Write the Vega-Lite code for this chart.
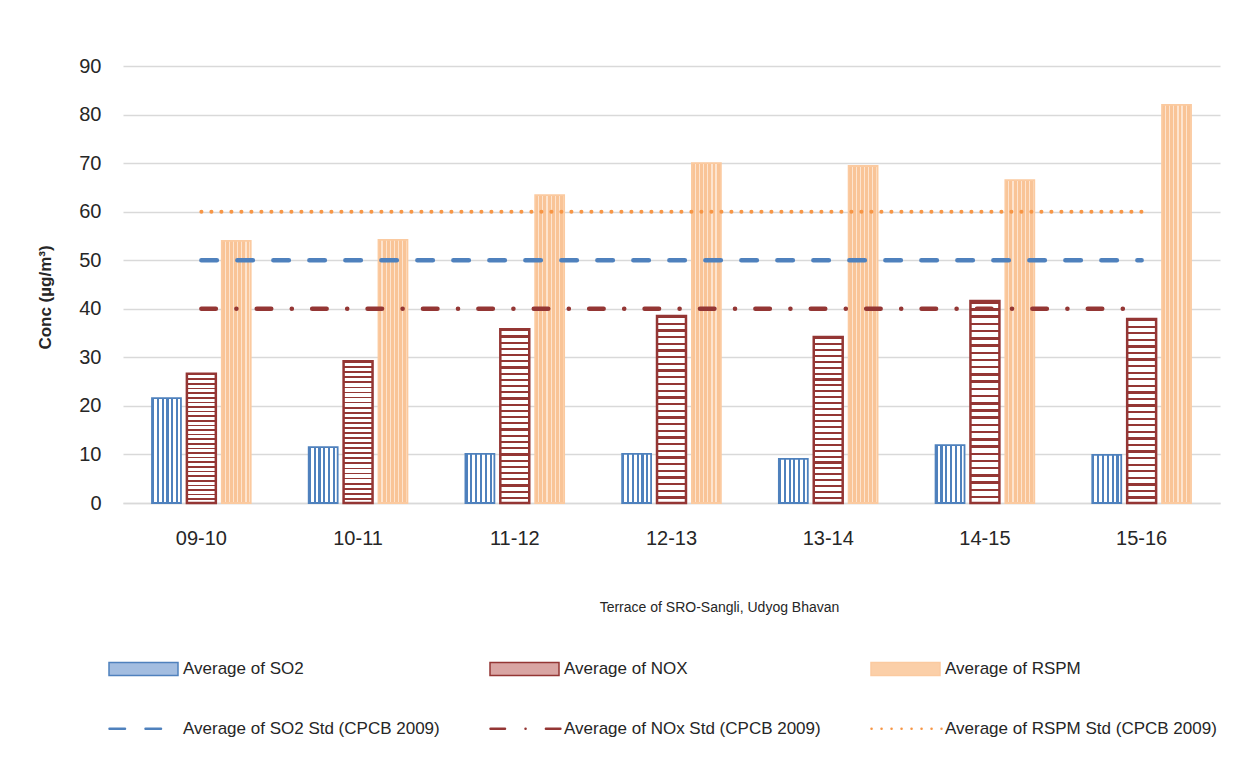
{
  "$schema": "https://vega.github.io/schema/vega-lite/v6.json",
  "width": 1097,
  "height": 437,
  "autosize": {"type": "none"},
  "padding": {"left": 123, "top": 66, "right": 17, "bottom": 270},
  "background": "white",
  "config": {
    "font": "Liberation Sans",
    "view": {"stroke": null},
    "axis": {
      "labelColor": "#262626",
      "titleColor": "#262626",
      "gridColor": "#d9d9d9",
      "gridWidth": 1.5,
      "domainColor": "#d9d9d9",
      "domainWidth": 1.5,
      "ticks": false
    },
    "legend": {"labelFontSize": 17, "labelColor": "#262626", "padding": 0, "labelLimit": 0}
  },
  "datasets": {
    "bars": [
      {"year": "09-10", "series": "Average of SO2", "value": 21.6},
      {"year": "10-11", "series": "Average of SO2", "value": 11.5},
      {"year": "11-12", "series": "Average of SO2", "value": 10.1},
      {"year": "12-13", "series": "Average of SO2", "value": 10.1},
      {"year": "13-14", "series": "Average of SO2", "value": 9.1},
      {"year": "14-15", "series": "Average of SO2", "value": 11.9},
      {"year": "15-16", "series": "Average of SO2", "value": 9.9},
      {"year": "09-10", "series": "Average of NOX", "value": 26.6},
      {"year": "10-11", "series": "Average of NOX", "value": 29.2},
      {"year": "11-12", "series": "Average of NOX", "value": 35.8},
      {"year": "12-13", "series": "Average of NOX", "value": 38.5},
      {"year": "13-14", "series": "Average of NOX", "value": 34.2},
      {"year": "14-15", "series": "Average of NOX", "value": 41.6},
      {"year": "15-16", "series": "Average of NOX", "value": 37.9},
      {"year": "09-10", "series": "Average of RSPM", "value": 54.0},
      {"year": "10-11", "series": "Average of RSPM", "value": 54.2},
      {"year": "11-12", "series": "Average of RSPM", "value": 63.4},
      {"year": "12-13", "series": "Average of RSPM", "value": 70.0},
      {"year": "13-14", "series": "Average of RSPM", "value": 69.4},
      {"year": "14-15", "series": "Average of RSPM", "value": 66.5},
      {"year": "15-16", "series": "Average of RSPM", "value": 82.0}
    ],
    "lines": [
      {"year": "09-10", "std": "Average of SO2 Std (CPCB 2009)", "value": 50},
      {"year": "10-11", "std": "Average of SO2 Std (CPCB 2009)", "value": 50},
      {"year": "11-12", "std": "Average of SO2 Std (CPCB 2009)", "value": 50},
      {"year": "12-13", "std": "Average of SO2 Std (CPCB 2009)", "value": 50},
      {"year": "13-14", "std": "Average of SO2 Std (CPCB 2009)", "value": 50},
      {"year": "14-15", "std": "Average of SO2 Std (CPCB 2009)", "value": 50},
      {"year": "15-16", "std": "Average of SO2 Std (CPCB 2009)", "value": 50},
      {"year": "09-10", "std": "Average of NOx Std (CPCB 2009)", "value": 40},
      {"year": "10-11", "std": "Average of NOx Std (CPCB 2009)", "value": 40},
      {"year": "11-12", "std": "Average of NOx Std (CPCB 2009)", "value": 40},
      {"year": "12-13", "std": "Average of NOx Std (CPCB 2009)", "value": 40},
      {"year": "13-14", "std": "Average of NOx Std (CPCB 2009)", "value": 40},
      {"year": "14-15", "std": "Average of NOx Std (CPCB 2009)", "value": 40},
      {"year": "15-16", "std": "Average of NOx Std (CPCB 2009)", "value": 40},
      {"year": "09-10", "std": "Average of RSPM Std (CPCB 2009)", "value": 60},
      {"year": "10-11", "std": "Average of RSPM Std (CPCB 2009)", "value": 60},
      {"year": "11-12", "std": "Average of RSPM Std (CPCB 2009)", "value": 60},
      {"year": "12-13", "std": "Average of RSPM Std (CPCB 2009)", "value": 60},
      {"year": "13-14", "std": "Average of RSPM Std (CPCB 2009)", "value": 60},
      {"year": "14-15", "std": "Average of RSPM Std (CPCB 2009)", "value": 60},
      {"year": "15-16", "std": "Average of RSPM Std (CPCB 2009)", "value": 60}
    ]
  },
  "encoding": {
    "x": {
      "field": "year",
      "type": "nominal",
      "scale": {"paddingInner": 0.37, "paddingOuter": 0.185},
      "axis": {
        "title": "Terrace of SRO-Sangli, Udyog Bhavan",
        "labelAngle": 0,
        "labelFontSize": 20,
        "labelPadding": 25,
        "titleFontSize": 14,
        "titleFontWeight": "normal",
        "titlePadding": 52,
        "titleX": 596,
        "titleAlign": "center",
        "titleAnchor": null
      }
    },
    "y": {
      "field": "value",
      "type": "quantitative",
      "scale": {"domain": [0, 90], "nice": false},
      "axis": {
        "title": "Conc (µg/m³)",
        "values": [0, 10, 20, 30, 40, 50, 60, 70, 80, 90],
        "domain": false,
        "labelFontSize": 20,
        "labelPadding": 22,
        "titleFontSize": 17,
        "titleFontWeight": "bold",
        "titlePadding": 24,
        "titleY": 231
      }
    }
  },
  "layer": [
    {
      "data": {"name": "bars"},
      "mark": {"type": "bar"},
      "encoding": {
        "xOffset": {
          "field": "series",
          "type": "nominal",
          "sort": ["Average of SO2", "Average of NOX", "Average of RSPM"],
          "scale": {"paddingInner": 0.17, "paddingOuter": 0}
        },
        "fill": {
          "field": "series",
          "type": "nominal",
          "scale": {
            "domain": ["Average of SO2", "Average of NOX", "Average of RSPM"],
            "range": ["#a3bde0", "#d9a5a3", "#fbcfa8"]
          },
          "legend": {
            "title": null,
            "orient": "none",
            "legendX": -15,
            "legendY": 567,
            "direction": "horizontal",
            "columns": 3,
            "gridAlign": "all",
            "columnPadding": 168,
            "symbolType": "M-1,-0.19H1V0.19H-1Z",
            "symbolSize": 4761,
            "symbolOpacity": 1,
            "symbolStrokeWidth": 1.5,
            "labelOffset": 4
          },
          "condition": [
            {
              "test": "datum.series === 'Average of SO2'",
              "value": {
                "gradient": "linear", "x1": 0, "y1": 0, "x2": 1, "y2": 0,
                "stops": [
                  {"offset": 0, "color": "#4f81bd"}, {"offset": 0.075, "color": "#4f81bd"}, {"offset": 0.075, "color": "#ffffff"}, {"offset": 0.1667, "color": "#ffffff"},
                  {"offset": 0.1667, "color": "#4f81bd"}, {"offset": 0.2417, "color": "#4f81bd"}, {"offset": 0.2417, "color": "#ffffff"}, {"offset": 0.3333, "color": "#ffffff"},
                  {"offset": 0.3333, "color": "#4f81bd"}, {"offset": 0.4083, "color": "#4f81bd"}, {"offset": 0.4083, "color": "#ffffff"}, {"offset": 0.5, "color": "#ffffff"},
                  {"offset": 0.5, "color": "#4f81bd"}, {"offset": 0.575, "color": "#4f81bd"}, {"offset": 0.575, "color": "#ffffff"}, {"offset": 0.6667, "color": "#ffffff"},
                  {"offset": 0.6667, "color": "#4f81bd"}, {"offset": 0.7417, "color": "#4f81bd"}, {"offset": 0.7417, "color": "#ffffff"}, {"offset": 0.8333, "color": "#ffffff"},
                  {"offset": 0.8333, "color": "#4f81bd"}, {"offset": 0.9083, "color": "#4f81bd"}, {"offset": 0.9083, "color": "#ffffff"}, {"offset": 1, "color": "#ffffff"}
                ]
              }
            },
            {
              "test": "datum.series === 'Average of NOX'",
              "value": {
                "gradient": "linear", "x1": 0, "y1": 0, "x2": 0, "y2": 1,
                "stops": [
                  {"offset": 0, "color": "#943634"}, {"offset": 0.0125, "color": "#943634"}, {"offset": 0.0125, "color": "#ffffff"}, {"offset": 0.0357, "color": "#ffffff"},
                  {"offset": 0.0357, "color": "#943634"}, {"offset": 0.0482, "color": "#943634"}, {"offset": 0.0482, "color": "#ffffff"}, {"offset": 0.0714, "color": "#ffffff"},
                  {"offset": 0.0714, "color": "#943634"}, {"offset": 0.0839, "color": "#943634"}, {"offset": 0.0839, "color": "#ffffff"}, {"offset": 0.1071, "color": "#ffffff"},
                  {"offset": 0.1071, "color": "#943634"}, {"offset": 0.1196, "color": "#943634"}, {"offset": 0.1196, "color": "#ffffff"}, {"offset": 0.1429, "color": "#ffffff"},
                  {"offset": 0.1429, "color": "#943634"}, {"offset": 0.1554, "color": "#943634"}, {"offset": 0.1554, "color": "#ffffff"}, {"offset": 0.1786, "color": "#ffffff"},
                  {"offset": 0.1786, "color": "#943634"}, {"offset": 0.1911, "color": "#943634"}, {"offset": 0.1911, "color": "#ffffff"}, {"offset": 0.2143, "color": "#ffffff"},
                  {"offset": 0.2143, "color": "#943634"}, {"offset": 0.2268, "color": "#943634"}, {"offset": 0.2268, "color": "#ffffff"}, {"offset": 0.25, "color": "#ffffff"},
                  {"offset": 0.25, "color": "#943634"}, {"offset": 0.2625, "color": "#943634"}, {"offset": 0.2625, "color": "#ffffff"}, {"offset": 0.2857, "color": "#ffffff"},
                  {"offset": 0.2857, "color": "#943634"}, {"offset": 0.2982, "color": "#943634"}, {"offset": 0.2982, "color": "#ffffff"}, {"offset": 0.3214, "color": "#ffffff"},
                  {"offset": 0.3214, "color": "#943634"}, {"offset": 0.3339, "color": "#943634"}, {"offset": 0.3339, "color": "#ffffff"}, {"offset": 0.3571, "color": "#ffffff"},
                  {"offset": 0.3571, "color": "#943634"}, {"offset": 0.3696, "color": "#943634"}, {"offset": 0.3696, "color": "#ffffff"}, {"offset": 0.3929, "color": "#ffffff"},
                  {"offset": 0.3929, "color": "#943634"}, {"offset": 0.4054, "color": "#943634"}, {"offset": 0.4054, "color": "#ffffff"}, {"offset": 0.4286, "color": "#ffffff"},
                  {"offset": 0.4286, "color": "#943634"}, {"offset": 0.4411, "color": "#943634"}, {"offset": 0.4411, "color": "#ffffff"}, {"offset": 0.4643, "color": "#ffffff"},
                  {"offset": 0.4643, "color": "#943634"}, {"offset": 0.4768, "color": "#943634"}, {"offset": 0.4768, "color": "#ffffff"}, {"offset": 0.5, "color": "#ffffff"},
                  {"offset": 0.5, "color": "#943634"}, {"offset": 0.5125, "color": "#943634"}, {"offset": 0.5125, "color": "#ffffff"}, {"offset": 0.5357, "color": "#ffffff"},
                  {"offset": 0.5357, "color": "#943634"}, {"offset": 0.5482, "color": "#943634"}, {"offset": 0.5482, "color": "#ffffff"}, {"offset": 0.5714, "color": "#ffffff"},
                  {"offset": 0.5714, "color": "#943634"}, {"offset": 0.5839, "color": "#943634"}, {"offset": 0.5839, "color": "#ffffff"}, {"offset": 0.6071, "color": "#ffffff"},
                  {"offset": 0.6071, "color": "#943634"}, {"offset": 0.6196, "color": "#943634"}, {"offset": 0.6196, "color": "#ffffff"}, {"offset": 0.6429, "color": "#ffffff"},
                  {"offset": 0.6429, "color": "#943634"}, {"offset": 0.6554, "color": "#943634"}, {"offset": 0.6554, "color": "#ffffff"}, {"offset": 0.6786, "color": "#ffffff"},
                  {"offset": 0.6786, "color": "#943634"}, {"offset": 0.6911, "color": "#943634"}, {"offset": 0.6911, "color": "#ffffff"}, {"offset": 0.7143, "color": "#ffffff"},
                  {"offset": 0.7143, "color": "#943634"}, {"offset": 0.7268, "color": "#943634"}, {"offset": 0.7268, "color": "#ffffff"}, {"offset": 0.75, "color": "#ffffff"},
                  {"offset": 0.75, "color": "#943634"}, {"offset": 0.7625, "color": "#943634"}, {"offset": 0.7625, "color": "#ffffff"}, {"offset": 0.7857, "color": "#ffffff"},
                  {"offset": 0.7857, "color": "#943634"}, {"offset": 0.7982, "color": "#943634"}, {"offset": 0.7982, "color": "#ffffff"}, {"offset": 0.8214, "color": "#ffffff"},
                  {"offset": 0.8214, "color": "#943634"}, {"offset": 0.8339, "color": "#943634"}, {"offset": 0.8339, "color": "#ffffff"}, {"offset": 0.8571, "color": "#ffffff"},
                  {"offset": 0.8571, "color": "#943634"}, {"offset": 0.8696, "color": "#943634"}, {"offset": 0.8696, "color": "#ffffff"}, {"offset": 0.8929, "color": "#ffffff"},
                  {"offset": 0.8929, "color": "#943634"}, {"offset": 0.9054, "color": "#943634"}, {"offset": 0.9054, "color": "#ffffff"}, {"offset": 0.9286, "color": "#ffffff"},
                  {"offset": 0.9286, "color": "#943634"}, {"offset": 0.9411, "color": "#943634"}, {"offset": 0.9411, "color": "#ffffff"}, {"offset": 0.9643, "color": "#ffffff"},
                  {"offset": 0.9643, "color": "#943634"}, {"offset": 0.9768, "color": "#943634"}, {"offset": 0.9768, "color": "#ffffff"}, {"offset": 1, "color": "#ffffff"}
                ]
              }
            },
            {
              "test": "datum.series === 'Average of RSPM'",
              "value": {
                "gradient": "linear", "x1": 0, "y1": 0, "x2": 1, "y2": 0,
                "stops": [
                  {"offset": 0, "color": "#f9c497"}, {"offset": 0.1, "color": "#f9c497"}, {"offset": 0.1, "color": "#fde4cf"}, {"offset": 0.1429, "color": "#fde4cf"},
                  {"offset": 0.1429, "color": "#f9c497"}, {"offset": 0.2429, "color": "#f9c497"}, {"offset": 0.2429, "color": "#fde4cf"}, {"offset": 0.2857, "color": "#fde4cf"},
                  {"offset": 0.2857, "color": "#f9c497"}, {"offset": 0.3857, "color": "#f9c497"}, {"offset": 0.3857, "color": "#fde4cf"}, {"offset": 0.4286, "color": "#fde4cf"},
                  {"offset": 0.4286, "color": "#f9c497"}, {"offset": 0.5286, "color": "#f9c497"}, {"offset": 0.5286, "color": "#fde4cf"}, {"offset": 0.5714, "color": "#fde4cf"},
                  {"offset": 0.5714, "color": "#f9c497"}, {"offset": 0.6714, "color": "#f9c497"}, {"offset": 0.6714, "color": "#fde4cf"}, {"offset": 0.7143, "color": "#fde4cf"},
                  {"offset": 0.7143, "color": "#f9c497"}, {"offset": 0.8143, "color": "#f9c497"}, {"offset": 0.8143, "color": "#fde4cf"}, {"offset": 0.8571, "color": "#fde4cf"},
                  {"offset": 0.8571, "color": "#f9c497"}, {"offset": 0.9571, "color": "#f9c497"}, {"offset": 0.9571, "color": "#fde4cf"}, {"offset": 1, "color": "#fde4cf"}
                ]
              }
            }
          ]
        },
        "stroke": {
          "field": "series",
          "type": "nominal",
          "scale": {
            "domain": ["Average of SO2", "Average of NOX", "Average of RSPM"],
            "range": ["#4f81bd", "#943634", "#fbcaa0"]
          },
          "legend": {
            "title": null,
            "orient": "none",
            "legendX": -15,
            "legendY": 567,
            "direction": "horizontal",
            "columns": 3,
            "gridAlign": "all",
            "columnPadding": 168,
            "symbolType": "M-1,-0.19H1V0.19H-1Z",
            "symbolSize": 4761,
            "symbolOpacity": 1,
            "symbolStrokeWidth": 1.5,
            "labelOffset": 4
          }
        },
        "strokeWidth": {
          "condition": {"test": "datum.series === 'Average of NOX'", "value": 2.5},
          "value": 1.8
        }
      }
    },
    {
      "data": {"name": "lines"},
      "mark": {"type": "line", "strokeCap": "round"},
      "encoding": {
        "color": {
          "field": "std",
          "type": "nominal",
          "scale": {
            "domain": ["Average of SO2 Std (CPCB 2009)", "Average of NOx Std (CPCB 2009)", "Average of RSPM Std (CPCB 2009)"],
            "range": ["#4f81bd", "#943634", "#f79646"]
          },
          "legend": {
            "title": null,
            "orient": "none",
            "legendX": -15,
            "legendY": 626,
            "direction": "horizontal",
            "columns": 3,
            "gridAlign": "all",
            "columnPadding": 30,
            "symbolType": "stroke",
            "symbolSize": 4900,
            "symbolStrokeWidth": 2.5,
            "labelOffset": 2,
            "encode": {"symbols": {"update": {"strokeCap": {"value": "round"}}}}
          }
        },
        "strokeDash": {
          "field": "std",
          "type": "nominal",
          "scale": {
            "domain": ["Average of SO2 Std (CPCB 2009)", "Average of NOx Std (CPCB 2009)", "Average of RSPM Std (CPCB 2009)"],
            "range": [[15.5, 20.5], [14.5, 20.5, 0.1, 20.3], [0.1, 9.9]]
          },
          "legend": {
            "title": null,
            "orient": "none",
            "legendX": -15,
            "legendY": 626,
            "direction": "horizontal",
            "columns": 3,
            "gridAlign": "all",
            "columnPadding": 30,
            "symbolType": "stroke",
            "symbolSize": 4900,
            "symbolStrokeWidth": 2.5,
            "labelOffset": 2,
            "encode": {"symbols": {"update": {"strokeCap": {"value": "round"}}}}
          }
        },
        "strokeWidth": {
          "condition": {"test": "datum.std === 'Average of RSPM Std (CPCB 2009)'", "value": 4},
          "value": 4.5
        }
      }
    }
  ]
}
